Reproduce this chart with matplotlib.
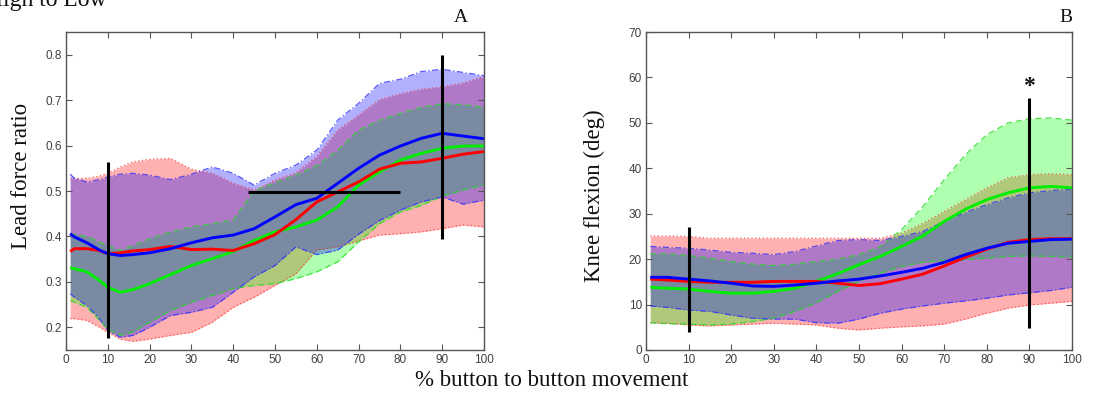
import matplotlib
matplotlib.use("Agg")
import matplotlib.pyplot as plt

# ---------------- data ----------------
pct_a = [1, 2, 5, 8, 10, 13, 16, 20, 25, 30, 35, 40, 45, 50, 55, 60, 65, 70, 75, 80, 85, 90, 95, 100]
blue_mean_a = [0.406, 0.399, 0.386, 0.370, 0.362, 0.358, 0.360, 0.364, 0.373, 0.386, 0.397, 0.403,
               0.417, 0.443, 0.470, 0.484, 0.517, 0.550, 0.579, 0.599, 0.616, 0.627, 0.621, 0.615]
red_mean_a = [0.367, 0.373, 0.373, 0.369, 0.362, 0.364, 0.368, 0.371, 0.378, 0.371, 0.372, 0.369,
              0.384, 0.404, 0.437, 0.476, 0.498, 0.520, 0.548, 0.561, 0.564, 0.572, 0.581, 0.587]
green_mean_a = [0.331, 0.329, 0.322, 0.303, 0.288, 0.277, 0.283, 0.296, 0.316, 0.336, 0.351, 0.367,
                0.391, 0.410, 0.421, 0.436, 0.465, 0.513, 0.542, 0.568, 0.583, 0.594, 0.599, 0.599]
blue_up_a = [0.537, 0.528, 0.520, 0.525, 0.531, 0.537, 0.539, 0.535, 0.525, 0.537, 0.553, 0.539,
             0.513, 0.539, 0.557, 0.590, 0.656, 0.693, 0.737, 0.746, 0.763, 0.768, 0.761, 0.754]
blue_lo_a = [0.274, 0.266, 0.248, 0.219, 0.193, 0.178, 0.182, 0.200, 0.226, 0.233, 0.244, 0.277,
             0.311, 0.336, 0.377, 0.360, 0.370, 0.405, 0.435, 0.458, 0.476, 0.487, 0.471, 0.480]
red_up_a = [0.527, 0.528, 0.528, 0.533, 0.539, 0.553, 0.564, 0.570, 0.572, 0.548, 0.539, 0.517,
            0.502, 0.524, 0.540, 0.576, 0.634, 0.667, 0.701, 0.714, 0.724, 0.729, 0.738, 0.752]
red_lo_a = [0.219, 0.219, 0.215, 0.200, 0.189, 0.174, 0.169, 0.174, 0.182, 0.189, 0.211, 0.244,
            0.266, 0.292, 0.318, 0.370, 0.377, 0.390, 0.403, 0.406, 0.410, 0.417, 0.425, 0.421]
green_up_a = [0.405, 0.405, 0.400, 0.388, 0.380, 0.369, 0.380, 0.395, 0.410, 0.421, 0.428, 0.436,
              0.500, 0.518, 0.535, 0.556, 0.590, 0.634, 0.656, 0.671, 0.684, 0.692, 0.690, 0.684]
green_lo_a = [0.259, 0.255, 0.244, 0.215, 0.196, 0.182, 0.190, 0.211, 0.237, 0.255, 0.270, 0.285,
              0.292, 0.296, 0.307, 0.322, 0.344, 0.388, 0.428, 0.454, 0.468, 0.489, 0.502, 0.513]

pct_b = [1, 5, 10, 15, 20, 25, 30, 35, 40, 45, 50, 55, 60, 65, 70, 75, 80, 85, 90, 95, 100]
blue_mean_b = [16.0, 16.0, 15.6, 15.2, 14.7, 14.1, 14.0, 14.3, 14.7, 15.2, 15.6, 16.3, 17.1, 18.0,
               19.3, 21.0, 22.4, 23.5, 23.9, 24.3, 24.4]
red_mean_b = [15.6, 15.4, 15.1, 14.9, 14.9, 14.9, 15.1, 15.1, 15.1, 14.7, 14.2, 14.6, 15.6, 16.7,
              18.5, 20.4, 22.2, 23.7, 24.3, 24.5, 24.5]
green_mean_b = [13.8, 13.6, 13.4, 12.9, 12.5, 12.5, 12.9, 13.6, 15.1, 16.8, 18.8, 20.6, 22.8, 25.1,
                28.3, 31.0, 33.1, 34.6, 35.7, 36.0, 35.7]
blue_up_b = [22.8, 22.6, 22.4, 22.0, 21.5, 21.3, 21.0, 21.7, 22.9, 24.1, 24.3, 24.1, 25.0, 26.1,
             28.3, 30.3, 32.0, 33.5, 34.6, 35.1, 35.4]
blue_lo_b = [9.7, 9.4, 8.8, 8.5, 7.7, 7.0, 6.8, 6.8, 6.0, 5.9, 6.8, 8.1, 9.0, 9.7,
             10.3, 10.8, 11.4, 12.1, 12.6, 13.1, 13.8]
red_up_b = [25.1, 25.1, 25.0, 24.6, 24.6, 24.6, 24.6, 24.6, 24.6, 24.6, 24.6, 24.6, 25.7, 27.9,
            30.5, 33.1, 35.7, 37.9, 38.6, 38.8, 38.6]
red_lo_b = [6.0, 5.9, 5.5, 5.3, 5.5, 5.7, 5.9, 5.7, 5.5, 4.8, 4.4, 4.8, 5.1, 5.3,
            5.7, 6.8, 8.1, 9.2, 9.9, 10.3, 10.7]
green_up_b = [21.2, 21.2, 20.8, 20.2, 19.5, 18.9, 18.6, 18.9, 19.5, 20.0, 21.0, 22.8, 26.5, 31.6,
              37.5, 43.0, 47.4, 50.0, 50.9, 51.1, 50.6]
green_lo_b = [6.0, 5.8, 5.7, 5.5, 5.7, 6.25, 7.0, 8.5, 10.4, 12.9, 15.1, 16.9, 18.4, 19.3,
              19.7, 19.9, 20.2, 20.6, 20.7, 20.6, 20.4]

# black markers (statistical bars)
bars_a = [(10, 0.177, 0.564), (90, 0.394, 0.799)]
hbar_a = (43.5, 80, 0.498)
bars_b = [(10, 4.0, 27.1), (90, 4.8, 55.4)]
star_b = (90, 58.0)

xticks = list(range(0, 101, 10))
yticks_a = [0.2, 0.3, 0.4, 0.5, 0.6, 0.7, 0.8]
yticks_b = list(range(0, 71, 10))

# ---------------- drawing ----------------
W, H = 1099, 396
fig = plt.figure(figsize=(W / 100, H / 100), dpi=100)
SERIF = ["Liberation Serif", "DejaVu Serif"]
SANS = ["Liberation Sans", "DejaVu Sans"]
ALPHA = 0.31


def px_axes(l, r, t, b):
    return fig.add_axes([l / W, 1 - b / H, (r - l) / W, (b - t) / H])


def draw_panel(ax, x, means, ups, los):
    (bm, rm, gm), (bu, ru, gu), (bl, rl, gl) = means, ups, los
    ax.fill_between(x, rl, ru, color="#ff0000", alpha=ALPHA, lw=0)
    ax.fill_between(x, gl, gu, color="#00ff00", alpha=ALPHA, lw=0)
    ax.fill_between(x, bl, bu, color="#0000ff", alpha=ALPHA, lw=0)
    for y in (ru, rl):
        ax.plot(x, y, color="#ff3030", lw=0.9, ls=(0, (1, 2)), alpha=0.8)
    for y in (gu, gl):
        ax.plot(x, y, color="#22dd22", lw=0.9, ls=(0, (5, 3)), alpha=0.8)
    for y in (bu, bl):
        ax.plot(x, y, color="#3030ff", lw=0.9, ls=(0, (5, 2, 1, 2)), alpha=0.8)
    ax.plot(x, gm, color="#00ee00", lw=2.1, solid_capstyle="butt")
    ax.plot(x, rm, color="#ff0000", lw=2.1, solid_capstyle="butt")
    ax.plot(x, bm, color="#0000ff", lw=2.1, solid_capstyle="butt")


def style(ax, yticks, ylim, fmt):
    ax.set_xlim(0, 100)
    ax.set_ylim(*ylim)
    ax.set_xticks(xticks)
    ax.set_yticks(yticks)
    ax.set_xticklabels([str(t) for t in xticks])
    ax.set_yticklabels([fmt(t) for t in yticks])
    ax.tick_params(direction="in", top=True, right=True, length=4, width=0.8,
                   color="#555555", labelsize=8.5, labelcolor="#404040", pad=3)
    for lab in ax.get_xticklabels() + ax.get_yticklabels():
        lab.set_fontfamily(SANS)
    for sp in ax.spines.values():
        sp.set_color("#555555")
        sp.set_linewidth(1.0)


# Panel A
axA = px_axes(66, 484, 32, 350)
draw_panel(axA, pct_a,
           (blue_mean_a, red_mean_a, green_mean_a),
           (blue_up_a, red_up_a, green_up_a),
           (blue_lo_a, red_lo_a, green_lo_a))
for xv, y0, y1 in bars_a:
    axA.plot([xv, xv], [y0, y1], color="black", lw=2.2, solid_capstyle="butt")
axA.plot([hbar_a[0], hbar_a[1]], [hbar_a[2], hbar_a[2]], color="black", lw=2.2,
         solid_capstyle="butt")
style(axA, yticks_a, (0.15, 0.85), lambda v: f"{v:.1f}")

# Panel B
axB = px_axes(646, 1072, 32, 350)
draw_panel(axB, pct_b,
           (blue_mean_b, red_mean_b, green_mean_b),
           (blue_up_b, red_up_b, green_up_b),
           (blue_lo_b, red_lo_b, green_lo_b))
for xv, y0, y1 in bars_b:
    axB.plot([xv, xv], [y0, y1], color="black", lw=2.2, solid_capstyle="butt")
axB.text(star_b[0], star_b[1], "*", ha="center", va="center", fontsize=17,
         fontweight="bold", family=SERIF, color="#111111")
style(axB, yticks_b, (0, 70), lambda v: f"{int(v)}")

# texts
fig.text(-14 / W, 1 - 6 / H, "High to Low", family=SERIF, fontsize=17,
         ha="left", va="baseline", color="#111111")
fig.text(461 / W, 1 - 17 / H, "A", family=SERIF, fontsize=14, ha="center",
         va="center", color="#111111")
fig.text(1066 / W, 1 - 17 / H, "B", family=SERIF, fontsize=14, ha="center",
         va="center", color="#111111")
fig.text(22 / W, 1 - 176 / H, "Lead force ratio", family=SERIF, fontsize=16.5,
         rotation=90, ha="center", va="center", color="#111111")
fig.text(594 / W, 1 - 196 / H, "Knee flexion (deg)", family=SERIF, fontsize=16.5,
         rotation=90, ha="center", va="center", color="#111111")
fig.text(552 / W, 1 - 381 / H, "% button to button movement", family=SERIF,
         fontsize=16.5, ha="center", va="center", color="#111111")

fig.savefig("out.png", dpi=100, facecolor="white")
